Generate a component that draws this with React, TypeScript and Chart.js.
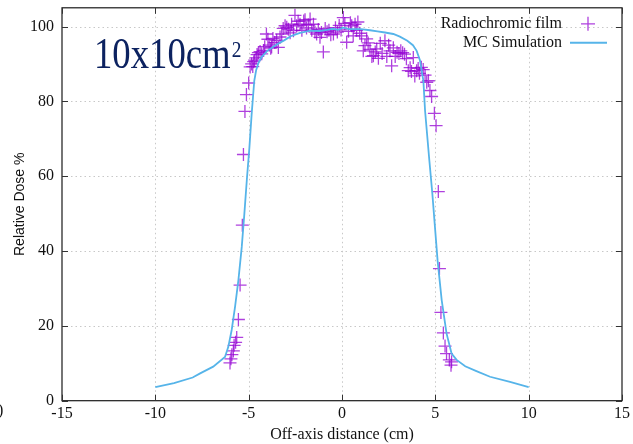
import React, { useEffect, useRef } from "react";
import { Chart, registerables } from "chart.js";

Chart.register(...registerables);

const xTicks = [-15, -10, -5, 0, 5, 10, 15];
const yTicks = [0, 20, 40, 60, 80, 100];
const xMin = -15;
const xMax = 15;
const yMin = 0;
const yMax = 105;

const legendFilm = "Radiochromic film";
const legendSim = "MC Simulation";
const annotationMain = "10x10cm";
const annotationSup = "2";

// MC simulation profile
const simX = [
  -10, -9, -8, -7.6, -6.9, -6.27, -6.09, -5.91, -5.73, -5.55,
  -5.37, -5.23, -5.1, -4.96, -4.84, -4.7, -4.6, -4.48, -4.3, -4.0,
  -3.5, -3.1, -2.75, -2.25, -1.7, -1.2, -0.8, -0.5, -0.2, 0.05,
  0.4, 1.0, 1.5, 1.9, 2.3, 2.75, 3.1, 3.5, 3.8, 4.0,
  4.18, 4.36, 4.45, 4.68, 4.84, 4.98, 5.12, 5.34, 5.6, 5.87,
  6.14, 6.6, 7.2, 7.93, 9, 10,
];
const simY = [
  3.6, 4.7, 6.2, 7.3, 9.1, 11.7, 14.4, 18.9, 25.1, 32.2,
  41.1, 50.0, 58.9, 67.7, 76.6, 85.5, 88.3, 90.2, 91.9, 93.5,
  95.2, 96.3, 97.4, 98.3, 98.9, 98.8, 99.1, 99.4, 99.1, 99.7,
  99.3, 99.3, 99.0, 98.7, 98.4, 98.0, 97.3, 96.2, 95.0, 93.5,
  90.9, 85.5, 77.5, 64.2, 55.3, 46.4, 37.5, 26.9, 18.0, 12.6,
  10.9, 9.2, 7.9, 6.4, 5.0, 3.6,
];

// Radiochromic film measurements
const filmX = [
  -6.0, -5.95, -5.9, -5.82, -5.78, -5.7, -5.64, -5.55, -5.46, -5.34,
  -5.28, -5.2, -5.12, -5.0, -4.92, -4.84, -4.78, -4.73, -4.68, -4.6,
  -4.55, -4.48, -4.39, -4.3, -4.2, -4.14, -4.05, -3.97, -3.9, -3.82,
  -3.77, -3.7, -3.6, -3.5, -3.41, -3.32, -3.23, -3.15, -3.05, -2.96,
  -2.87, -2.78, -2.7, -2.6, -2.52, -2.43, -2.35, -2.25, -2.15, -2.05,
  -1.98, -1.9, -1.8, -1.71, -1.62, -1.53, -1.45, -1.36, -1.27, -1.18,
  -1.1, -1.0, -0.9, -0.8, -0.7, -0.6, -0.46, -0.35, -0.25, -0.15,
  -0.05, 0.07, 0.15, 0.25, 0.35, 0.45, 0.52, 0.6, 0.7, 0.78,
  0.85, 0.95, 1.05, 1.14, 1.23, 1.32, 1.4, 1.5, 1.6, 1.68,
  1.78, 1.86, 1.95, 2.05, 2.15, 2.3, 2.4, 2.5, 2.57, 2.66,
  2.75, 2.85, 2.95, 3.05, 3.15, 3.25, 3.35, 3.45, 3.55, 3.65,
  3.72, 3.82, 3.9, 4.0, 4.08, 4.15, 4.25, 4.35, 4.45, 4.54,
  4.63, 4.71, 4.8, 4.95, 5.04, 5.16, 5.22, 5.3, 5.43, 5.52,
  5.6, 5.75, 5.84, 5.87,
];
const filmY = [
  10.1, 11.2, 12.3, 13.3, 14.8, 15.6, 16.9, 21.7, 30.9, 46.9,
  65.8, 77.3, 81.8, 84.9, 89.2, 90.0, 89.3, 90.6, 91.0, 91.6,
  92.5, 93.0, 93.3, 92.7, 93.6, 94.6, 98.0, 96.6, 95.0, 94.2,
  94.5, 96.8, 95.7, 96.3, 94.4, 97.2, 98.0, 99.5, 100.2, 99.8,
  99.3, 98.3, 100.6, 98.9, 103.0, 100.2, 101.4, 100.6, 99.0, 101.5,
  101.8, 99.6, 100.4, 102.0, 99.0, 100.6, 98.5, 98.0, 99.2, 97.1,
  98.4, 93.2, 99.5, 98.6, 99.0, 97.8, 98.0, 99.7, 98.5, 100.3,
  99.1, 102.4, 100.8, 95.8, 98.7, 101.0, 100.2, 97.5, 100.6, 99.0,
  101.2, 98.2, 97.5, 93.5, 94.9, 96.7, 95.6, 93.9, 92.0, 92.2,
  93.2, 94.0, 91.5, 95.5, 92.8, 96.2, 92.0, 95.0, 93.5, 89.5,
  94.3, 92.0, 93.1, 92.8, 93.5, 93.0, 92.6, 91.4, 88.2, 89.0,
  88.0, 91.7, 86.8, 88.2, 88.8, 87.5, 89.1, 88.5, 87.0, 85.1,
  85.5, 82.9, 81.3, 76.8, 73.5, 55.9, 35.3, 23.6, 18.1, 14.6,
  12.6, 10.9, 9.5, 10.4,
];

const FILM_COLOR = "rgba(148, 0, 211, 0.75)";
const SIM_COLOR = "#56b4e9";
const SERIF = "'Liberation Serif', 'Times New Roman', serif";
const SANS = "'Liberation Sans', Arial, sans-serif";

const decorPlugin = {
  id: "decor",
  beforeDatasetsDraw(chart: any) {
    const { ctx, chartArea: a, scales } = chart;
    const xs = scales.x;
    const ys = scales.y;
    ctx.save();
    ctx.strokeStyle = "#c8c8c8";
    ctx.lineWidth = 1;
    ctx.setLineDash([1.5, 3]);
    xTicks.forEach((v) => {
      if (v <= xMin || v >= xMax) return;
      const px = Math.round(xs.getPixelForValue(v)) + 0.5;
      ctx.beginPath();
      ctx.moveTo(px, a.top);
      ctx.lineTo(px, a.bottom);
      ctx.stroke();
    });
    yTicks.forEach((v) => {
      if (v <= yMin || v >= yMax) return;
      const py = Math.round(ys.getPixelForValue(v)) + 0.5;
      ctx.beginPath();
      ctx.moveTo(a.left, py);
      ctx.lineTo(a.right, py);
      ctx.stroke();
    });
    ctx.restore();
  },
  afterDraw(chart: any) {
    const { ctx, chartArea: a, scales } = chart;
    const xs = scales.x;
    const ys = scales.y;
    ctx.save();
    // frame
    ctx.strokeStyle = "#1a1a1a";
    ctx.lineWidth = 1.2;
    ctx.setLineDash([]);
    ctx.strokeRect(a.left, a.top, a.right - a.left, a.bottom - a.top);
    // inward ticks on all sides
    const tl = 6;
    ctx.lineWidth = 1;
    ctx.strokeStyle = "#333";
    xTicks.forEach((v) => {
      const px = Math.round(xs.getPixelForValue(v)) + 0.5;
      ctx.beginPath();
      ctx.moveTo(px, a.bottom);
      ctx.lineTo(px, a.bottom - tl);
      ctx.moveTo(px, a.top);
      ctx.lineTo(px, a.top + tl);
      ctx.stroke();
    });
    yTicks.forEach((v) => {
      const py = Math.round(ys.getPixelForValue(v)) + 0.5;
      ctx.beginPath();
      ctx.moveTo(a.left, py);
      ctx.lineTo(a.left + tl, py);
      ctx.moveTo(a.right, py);
      ctx.lineTo(a.right - tl, py);
      ctx.stroke();
    });

    // legend
    ctx.font = `16px ${SERIF}`;
    ctx.fillStyle = "#111";
    ctx.textAlign = "right";
    ctx.textBaseline = "middle";
    const lx = a.right - 60;
    const ly1 = a.top + 16;
    const ly2 = a.top + 35;
    ctx.fillText(legendFilm, lx, ly1);
    ctx.fillText(legendSim, lx, ly2);
    // film marker
    ctx.strokeStyle = FILM_COLOR;
    ctx.lineWidth = 1.3;
    const mx = a.right - 34;
    ctx.beginPath();
    ctx.moveTo(mx - 7, ly1);
    ctx.lineTo(mx + 7, ly1);
    ctx.moveTo(mx, ly1 - 7);
    ctx.lineTo(mx, ly1 + 7);
    ctx.stroke();
    // sim line sample
    ctx.strokeStyle = SIM_COLOR;
    ctx.lineWidth = 2;
    ctx.beginPath();
    ctx.moveTo(a.right - 52, ly2);
    ctx.lineTo(a.right - 15, ly2);
    ctx.stroke();

    // annotation "10x10cm²"
    ctx.fillStyle = "#0c2260";
    ctx.textAlign = "left";
    ctx.textBaseline = "alphabetic";
    ctx.translate(94, 68);
    ctx.scale(1.02, 1.22);
    ctx.font = `36px ${SERIF}`;
    ctx.fillText(annotationMain, 0, 0);
    const w = ctx.measureText(annotationMain).width;
    ctx.font = `19px ${SERIF}`;
    ctx.fillText(annotationSup, w + 1, -8.8);
    ctx.restore();

    // clipped fragment at the left edge
    ctx.save();
    ctx.font = `16px ${SERIF}`;
    ctx.fillStyle = "#111";
    ctx.textAlign = "left";
    ctx.textBaseline = "middle";
    ctx.fillText(")", -2, a.bottom + 10);
    ctx.restore();
  },
};

export default function App() {
  const canvasRef = useRef<HTMLCanvasElement | null>(null);

  useEffect(() => {
    const canvas = canvasRef.current;
    if (!canvas) return;
    const chart = new Chart(canvas, {
      type: "scatter",
      data: {
        datasets: [
          {
            label: legendSim,
            data: simX.map((x, i) => ({ x, y: simY[i] })),
            showLine: true,
            borderColor: SIM_COLOR,
            backgroundColor: SIM_COLOR,
            borderWidth: 1.8,
            pointRadius: 0,
            tension: 0,
          },
          {
            label: legendFilm,
            data: filmX.map((x, i) => ({ x, y: filmY[i] })),
            showLine: false,
            pointStyle: "cross",
            pointRadius: 6.5,
            borderColor: FILM_COLOR,
            backgroundColor: FILM_COLOR,
            borderWidth: 1.3,
          },
        ],
      },
      options: {
        animation: false,
        responsive: false,
        maintainAspectRatio: false,
        layout: { padding: { top: 7, right: 11, left: 0, bottom: 0 } },
        plugins: {
          legend: { display: false },
          tooltip: { enabled: false },
        },
        scales: {
          x: {
            type: "linear",
            min: xMin,
            max: xMax,
            afterBuildTicks: (s: any) => {
              s.ticks = xTicks.map((v) => ({ value: v }));
            },
            afterFit: (s: any) => {
              s.height = 43.3;
              s.paddingLeft = 0;
              s.paddingRight = 0;
            },
            grid: { display: false, drawTicks: false, tickLength: 0 },
            border: { display: false },
            ticks: {
              font: { family: SERIF, size: 16 },
              color: "#111",
              padding: 3,
              maxRotation: 0,
              autoSkip: false,
            },
            title: {
              display: true,
              text: "Off-axis distance (cm)",
              font: { family: SERIF, size: 16 },
              color: "#111",
              padding: { top: 0, bottom: 0 },
            },
          },
          y: {
            type: "linear",
            min: yMin,
            max: yMax,
            afterBuildTicks: (s: any) => {
              s.ticks = yTicks.map((v) => ({ value: v }));
            },
            afterFit: (s: any) => {
              s.width = 62;
              s.paddingTop = 0;
              s.paddingBottom = 0;
            },
            grid: { display: false, drawTicks: false, tickLength: 0 },
            border: { display: false },
            ticks: {
              font: { family: SERIF, size: 16 },
              color: "#111",
              padding: 8,
              autoSkip: false,
            },
            title: {
              display: true,
              text: "Relative Dose %",
              font: { family: SANS, size: 14 },
              color: "#111",
              padding: { top: 12, bottom: 0 },
            },
          },
        },
      },
      plugins: [decorPlugin],
    });
    return () => chart.destroy();
  }, []);

  return (
    <div style={{ position: "fixed", left: 0, top: 0, width: 633, height: 444, background: "#fff" }}>
      <canvas ref={canvasRef} width={633} height={444} style={{ display: "block" }} />
    </div>
  );
}
